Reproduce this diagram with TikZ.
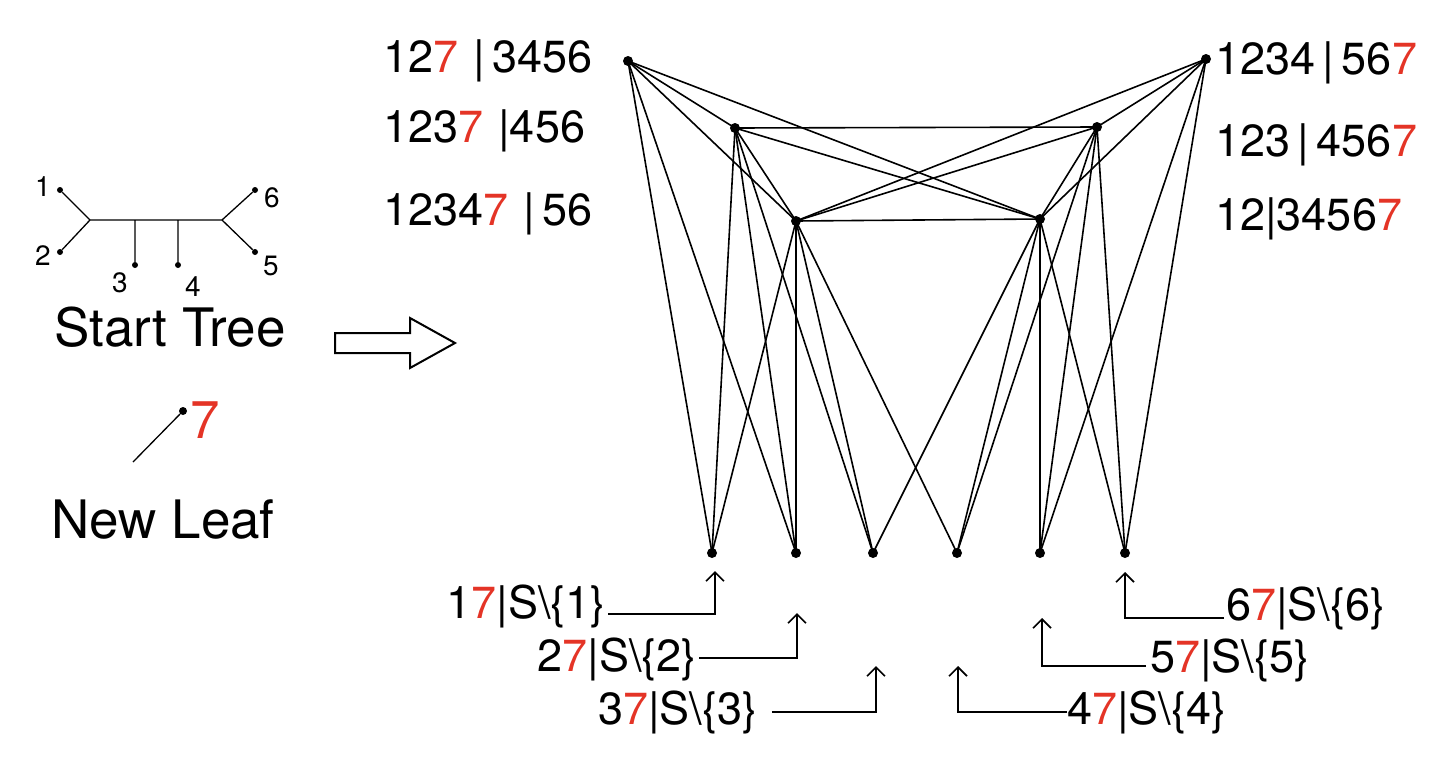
\documentclass[tikz,border=0pt]{standalone}
\usepackage{fontspec}
\setmainfont{TeX Gyre Heros}
\usetikzlibrary{arrows.meta}
\definecolor{rd}{RGB}{228,52,38}
\newcommand{\rs}{\textcolor{rd}{7}}
\begin{document}
\begin{tikzpicture}[x=1pt,y=-1pt,
  dot/.style={circle,fill=black,inner sep=0pt,minimum size=10pt},
  sdot/.style={circle,fill=black,inner sep=0pt,minimum size=6pt},
  big/.style={font=\fontsize{45}{50}\selectfont,inner sep=0pt},
  tl/.style={font=\fontsize{28}{30}\selectfont,inner sep=0pt},
  ed/.style={line width=1.6pt},
  pt/.style={line width=1.6pt,-{Straight Barb[length=9pt,width=18pt]}}]
\useasboundingbox (0,0) rectangle (1449,769);
% tree
\coordinate (tL) at (90,220); \coordinate (tR) at (222,220);
\node[sdot] (l1) at (60,190) {}; \node[sdot] (l2) at (60,252) {};
\node[sdot] (l3) at (135,265) {}; \node[sdot] (l4) at (178,265) {};
\node[sdot] (l6) at (255,190) {}; \node[sdot] (l5) at (255,252) {};
\coordinate (s3) at (135,220); \coordinate (s4) at (178,220);
\draw[line width=1.3pt] (tL)--(tR) (tL)--(l1) (tL)--(l2) (s3)--(l3) (s4)--(l4) (tR)--(l6) (tR)--(l5);
\node[tl] (n1) at (43,187) {1}; \node[tl] (n2) at (43,256) {2};
\node[tl] (n3) at (120,283) {3}; \node[tl] (n4) at (193,287) {4};
\node[tl] (n6) at (272,198) {6}; \node[tl] (n5) at (271,266) {5};
\node[big,font=\fontsize{53}{56}\selectfont] (st) at (170,327) {Start Tree};
\draw[line width=2pt] (335,333)--(410,333)--(410,318)--(455,343)--(410,368)--(410,353)--(335,353)--cycle;
\node[sdot,minimum size=8pt] (nl) at (183,411) {};
\coordinate (nle) at (133,462);
\draw[line width=1.3pt] (nle)--(nl);
\node[big,font=\fontsize{53}{56}\selectfont,text=rd] (n7) at (205,420) {7};
\node[big,font=\fontsize{53}{56}\selectfont] (nlt) at (163,519) {New Leaf};
% graph nodes
\node[dot] (A) at (628,61) {}; \node[dot] (B) at (735,128) {}; \node[dot] (C) at (796,221) {};
\node[dot] (D) at (1206,59) {}; \node[dot] (E) at (1097,127) {}; \node[dot] (F) at (1040,219) {};
\node[dot] (b1) at (712,553) {}; \node[dot] (b2) at (796,553) {}; \node[dot] (b3) at (873,553) {};
\node[dot] (b4) at (957,553) {}; \node[dot] (b5) at (1040,553) {}; \node[dot] (b6) at (1125,553) {};
\foreach \u/\v in {A/B,A/C,A/F,A/b1,A/b2,B/C,B/E,B/F,B/b1,B/b2,B/b3,C/D,C/E,C/F,C/b1,C/b2,C/b3,C/b4,
  D/E,D/F,D/b5,D/b6,E/F,E/b4,E/b5,E/b6,F/b3,F/b4,F/b5,F/b6}
  \draw[ed] (\u.center)--(\v.center);
% top labels
\node[big,anchor=west] (tA) at (383,61) {12\rs\,\,|\,3456};
\node[big,anchor=west] (tB) at (383,131) {123\rs\,\,|456};
\node[big,anchor=west] (tC) at (383,214) {1234\rs\,\,|\,56};
\node[big,anchor=west] (tD) at (1215,63) {1234\,|\,56\rs};
\node[big,anchor=west] (tE) at (1215,145) {123\,|\,456\rs};
\node[big,anchor=west] (tF) at (1215,219) {12|3456\rs};
% bottom labels
\node[big,anchor=east] (q1) at (606,606) {1\rs|S\textbackslash\{1\}};
\node[big,anchor=east] (q2) at (697,659) {2\rs|S\textbackslash\{2\}};
\node[big,anchor=west] (q3) at (598,712) {3\rs|S\textbackslash\{3\}};
\node[big,anchor=west] (q4) at (1067,712) {4\rs|S\textbackslash\{4\}};
\node[big,anchor=west] (q5) at (1150,660) {5\rs|S\textbackslash\{5\}};
\node[big,anchor=west] (q6) at (1226,608) {6\rs|S\textbackslash\{6\}};
\coordinate (c1) at (715,614); \coordinate (e1) at (715,571);
\coordinate (c2) at (797,658); \coordinate (e2) at (797,613);
\coordinate (c3) at (876,712); \coordinate (e3) at (876,666);
\coordinate (c4) at (958,712); \coordinate (e4) at (958,666);
\coordinate (c5) at (1042,666); \coordinate (e5) at (1042,618);
\coordinate (c6) at (1125,618); \coordinate (e6) at (1125,572);
\draw[pt] (q1.east |- c1) ++(2,0) -- (c1) -- (e1);
\draw[pt] (q2.east |- c2) ++(2,0) -- (c2) -- (e2);
\draw[pt] (q3.east |- c3) ++(14,0) -- (c3) -- (e3);
\draw[pt] (q4.west |- c4) ++(0,0) -- (c4) -- (e4);
\draw[pt] (q5.west |- c5) ++(-4,0) -- (c5) -- (e5);
\draw[pt] (q6.west |- c6) ++(-2,0) -- (c6) -- (e6);
\end{tikzpicture}
\end{document}
